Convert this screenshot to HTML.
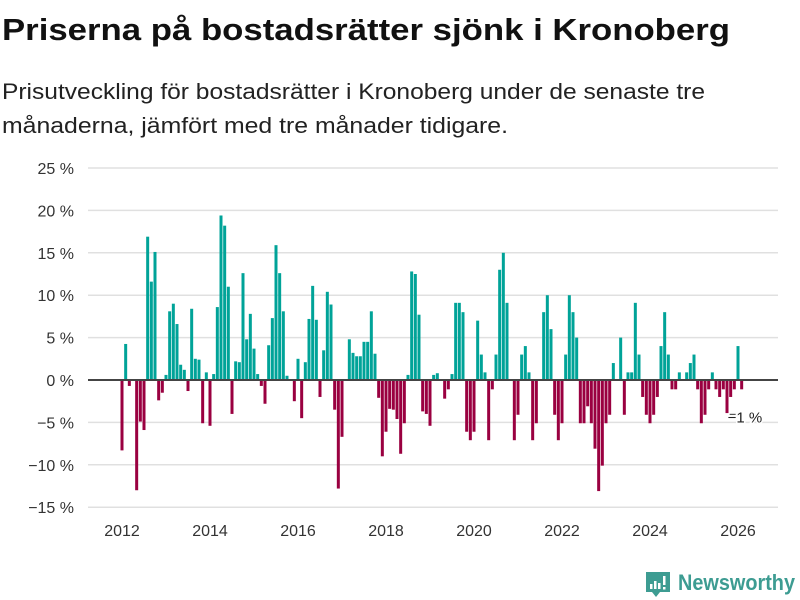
<!DOCTYPE html>
<html><head><meta charset="utf-8"><style>
body{margin:0;background:#fff;}
svg{display:block;font-family:"Liberation Sans",sans-serif;}
</style></head><body>
<svg id="chart" width="800" height="600" viewBox="0 0 800 600">
<text x="2" y="40" font-size="31" font-weight="bold" fill="#111" textLength="728" lengthAdjust="spacingAndGlyphs">Priserna på bostadsrätter sjönk i Kronoberg</text>
<text x="2" y="99" font-size="22" fill="#222" textLength="703" lengthAdjust="spacingAndGlyphs">Prisutveckling för bostadsrätter i Kronoberg under de senaste tre</text>
<text x="2" y="133" font-size="22" fill="#222" textLength="506" lengthAdjust="spacingAndGlyphs">månaderna, jämfört med tre månader tidigare.</text>
<g id="grid"></g>
<g id="ylabels"></g>
<g id="bars"></g>
<line id="zero" stroke="#444" stroke-width="2"></line>
<g id="xlabels"></g>
<g id="annot"></g>
<g>
<path d="M646 572 h24 v20 h-10 l-4 5 l-4 -5 h-6 z" fill="#3d9c92"/>
<rect x="650" y="584" width="2.5" height="5" fill="#fff"/><rect x="654" y="581" width="2.5" height="8" fill="#fff"/><rect x="658" y="583" width="2.5" height="6" fill="#fff"/><rect x="663" y="576" width="2.5" height="9" fill="#fff"/><rect x="663" y="587" width="2.5" height="2.5" fill="#fff"/>
<text x="678" y="590" font-size="22" font-weight="bold" fill="#3d9c92" textLength="117" lengthAdjust="spacingAndGlyphs">Newsworthy</text>
</g>
</svg>
<script>
const values = [-8.3,4.25,-0.7,0,-13,-4.9,-5.9,16.9,11.6,15.1,-2.4,-1.5,0.6,8.1,9.0,6.6,1.8,1.2,-1.3,8.4,2.5,2.4,-5.1,0.9,-5.4,0.7,8.6,19.4,18.2,11.0,-4.0,2.2,2.1,
12.6,4.8,7.8,3.7,0.7,-0.7,-2.8,4.1,7.3,15.9,12.6,8.1,0.5,0,-2.5,2.5,-4.5,2.1,7.2,11.1,7.1,-2.0,3.5,10.4,8.9,-3.5,-12.8,-6.7,0,4.8,3.2,2.8,2.8,
4.5,4.5,8.1,3.1,-2.1,-9.0,-6.1,-3.4,-3.5,-4.6,-8.7,-5.1,0.6,12.8,12.5,7.7,-3.7,-4.0,-5.4,0.6,0.8,0,-2.2,-1.1,0.7,9.1,9.1,8.0,-6.1,-7.1,-6.1,7.0,3.0,0.9,
-7.1,-1.1,3.0,13.0,15.0,9.1,0,-7.1,-4.1,3.0,4.0,0.9,-7.1,-5.1,0,8.0,10.0,6.0,-4.1,-7.1,-5.1,3.0,10.0,8.0,5.0,-5.1,-5.1,-3.1,-5.1,-8.1,-13.1,-10.1,-5.1,-4.1,
2.0,0,5.0,-4.1,0.9,0.9,9.1,3.0,-2.0,-4.1,-5.1,-4.1,-2.0,4.0,8.0,3.0,-1.1,-1.1,0.9,0,0.9,2.0,3.0,-1.1,-5.1,-4.1,-1.1,0.9,-1.1,-2.0,-1.1,-3.9,-2.0,-1.1,4.0,-1.1];
const startYear = 2012;
const yTicks = [-15,-10,-5,0,5,10,15,20,25];
const xTickYears = [2012,2014,2016,2018,2020,2022,2024,2026];
const lastLabel = "−1 %";

const NS="http://www.w3.org/2000/svg";
const y = v => 380 - v*(212/25);
const x = m => 122 + m*(616/168);
function mk(tag, attrs, parent){const e=document.createElementNS(NS,tag);for(const k in attrs)e.setAttribute(k,attrs[k]);parent.appendChild(e);return e;}
const grid=document.getElementById('grid'), yl=document.getElementById('ylabels');
yTicks.forEach(t=>{
  if(t!==0){const l=mk('line',{x1:88,x2:778,y1:y(t),y2:y(t),stroke:'#e0e0e0','stroke-width':1.5},grid);
  
  }
  const tx=mk('text',{x:74,y:y(t)+6,'font-size':16,fill:'#333','text-anchor':'end'},yl);
  tx.textContent=(t<0?'−'+(-t):t)+' %';
  
  
});
const bars=document.getElementById('bars');
values.forEach((v,i)=>{
  const r=mk('rect',{x:x(i)-1.5,width:3,y:Math.min(y(v),y(0)),height:Math.abs(y(v)-y(0)),fill:v>=0?'#00a398':'#9a0040'},bars);
  
  
});
const z=document.getElementById('zero');
z.setAttribute('x1',88);z.setAttribute('x2',778);z.setAttribute('y1',y(0));z.setAttribute('y2',y(0));
const xl=document.getElementById('xlabels');
xTickYears.forEach(yr=>{
  const tx=mk('text',{x:x((yr-startYear)*12),y:536,'font-size':16,fill:'#333','text-anchor':'middle'},xl);
  tx.textContent=yr;
  
  
});
const an=document.getElementById('annot');
const li=values.length-1;
const al=mk('line',{x1:x(li)-12,x2:x(li)-6,y1:y(values[li])+25,y2:y(values[li])+25,stroke:'#333','stroke-width':1},an);


const at=mk('text',{x:x(li)-14,y:y(values[li])+33,'font-size':15,fill:'#222',stroke:'#fff','stroke-width':3,'paint-order':'stroke'},an);
at.textContent=lastLabel;


</script>
</body></html>
